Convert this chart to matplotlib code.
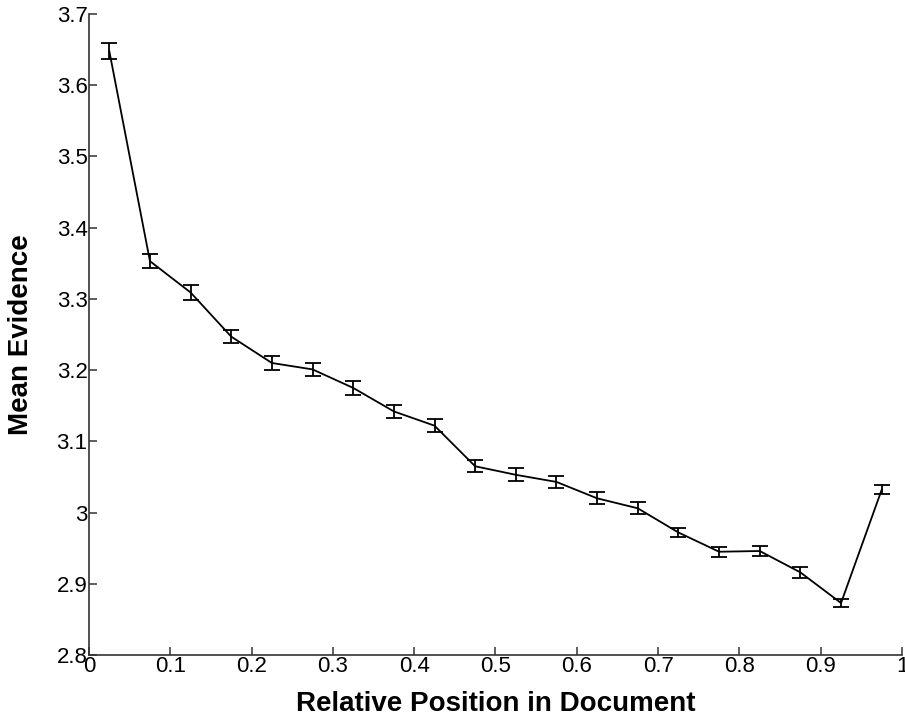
import matplotlib
matplotlib.use('Agg')
import matplotlib.pyplot as plt

# bin centres along the document and mean evidence per bin
position = [0.025, 0.075, 0.125, 0.175, 0.225, 0.275, 0.325, 0.375, 0.425,
            0.475, 0.525, 0.575, 0.625, 0.675, 0.725, 0.775, 0.825, 0.875,
            0.925, 0.975]
mean_evidence = [3.648, 3.353, 3.309, 3.247, 3.210, 3.201, 3.175, 3.142,
                 3.122, 3.065, 3.053, 3.043, 3.020, 3.006, 2.972, 2.945,
                 2.946, 2.916, 2.873, 3.032]
std_err = [0.011, 0.010, 0.010, 0.0095, 0.0093, 0.0096, 0.0093, 0.0096,
           0.009, 0.0084, 0.009, 0.009, 0.0084, 0.0084, 0.007, 0.007,
           0.0077, 0.0077, 0.0063, 0.0063]

xticks = [0, 0.1, 0.2, 0.3, 0.4, 0.5, 0.6, 0.7, 0.8, 0.9, 1]
xticklabels = ['0', '0.1', '0.2', '0.3', '0.4', '0.5', '0.6', '0.7', '0.8',
               '0.9', '1']
yticks = [2.8, 2.9, 3.0, 3.1, 3.2, 3.3, 3.4, 3.5, 3.6, 3.7]
yticklabels = ['2.8', '2.9', '3', '3.1', '3.2', '3.3', '3.4', '3.5', '3.6',
               '3.7']

plt.rcParams['font.family'] = ['Liberation Sans', 'DejaVu Sans']

fig = plt.figure(figsize=(9.05, 7.22), dpi=100)
ax = fig.add_axes([0.0983, 0.0928, 0.8984, 0.8878])

ax.errorbar(position, mean_evidence, yerr=std_err, color='black',
            linewidth=1.3, elinewidth=1.3, capsize=5.8, capthick=1.3)

ax.set_xlim(0, 1)
ax.set_ylim(2.8, 3.7)
ax.set_xticks(xticks)
ax.set_xticklabels(xticklabels)
ax.set_yticks(yticks)
ax.set_yticklabels(yticklabels)
ax.spines['top'].set_visible(False)
ax.spines['right'].set_visible(False)
for side in ('left', 'bottom'):
    ax.spines[side].set_linewidth(1.2)
    ax.spines[side].set_color('#333333')
ax.tick_params(direction='in', length=6, width=1.1, labelsize=16,
               color='#333333', pad=1)

ax.set_xlabel('Relative Position in Document', fontsize=20,
              fontweight='bold', labelpad=10)
ax.set_ylabel('Mean Evidence', fontsize=20, fontweight='bold', labelpad=16)

fig.savefig('out.png', dpi=100)
